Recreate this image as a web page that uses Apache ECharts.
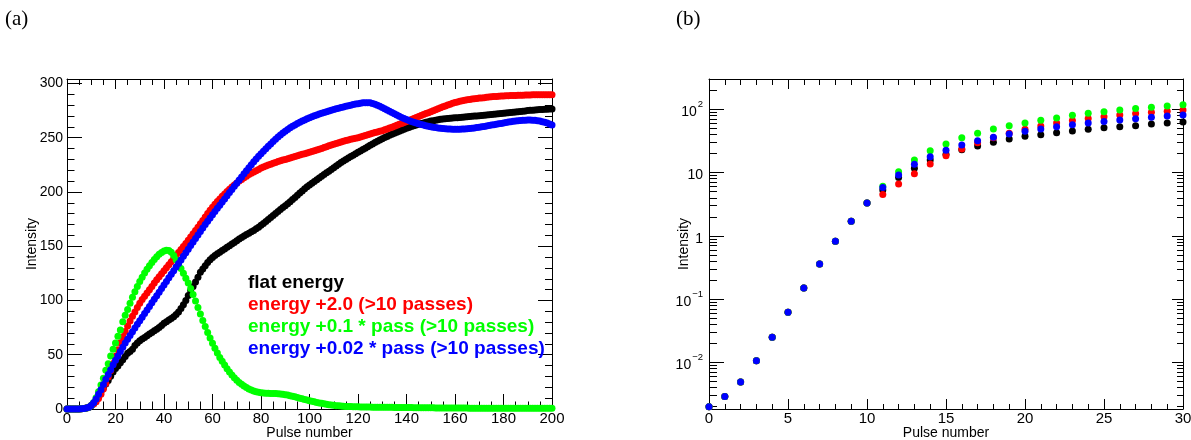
<!DOCTYPE html>
<html><head><meta charset="utf-8">
<script src="https://cdn.jsdelivr.net/npm/echarts@6/dist/echarts.min.js"></script>
<style>html,body{margin:0;padding:0;background:#fff}#c{width:1191px;height:440px}</style>
</head><body><div id="c"></div>
<script>
// ---------------- data (intensity per pulse number 0..200) ----------------
const seriesNames = ['flat energy', 'energy +2.0 (>10 passes)', 'energy +0.1 * pass (>10 passes)', 'energy +0.02 * pass (>10 passes)'];
const seriesColors = ['#000000', '#ff0000', '#00ff00', '#0000ff'];

const flatEnergy = [
0.002,0.0029,0.0049,0.0106,0.025,0.062,0.15,0.36,0.82,1.7,3.3,
5.3,8.4,11.7,15.8,19.5,23.0,26.3,30.1,34.0,37.4,
39.7,42.7,45.4,48.3,51.3,53.1,55.1,58.5,60.8,63.0,
64.5,66,67.5,69,70.5,72,73.5,75,77,79,
80.5,82,83.5,85,87,89.5,92.5,96,100,104.5,
109,113,117,121.5,126,129,132,135,137.5,139.5,
141.5,143,144.5,146,147.5,149,150.5,152,153.5,155,
156.6,158,159.4,160.7,162,163.3,164.6,166,167.6,169.3,
171,172.8,174.6,176.5,178.4,180.2,182,183.8,185.6,187.4,
189.2,191,193,195,197,199,201,203,204.8,206.5,
208,209.6,211.2,212.8,214.4,216,217.6,219.2,220.8,222.4,
224,225.6,227.1,228.5,229.9,231.3,232.6,233.9,235.2,236.5,
237.8,239.1,240.4,241.7,243,244.3,245.5,246.7,247.9,249,
250.1,251.2,252.2,253.2,254.2,255.1,256,256.9,257.8,258.7,
259.5,260.3,261,261.7,262.4,263,263.6,264.2,264.8,265.3,
265.7,266.1,266.5,266.9,267.2,267.5,267.7,267.9,268.1,268.3,
268.5,268.7,268.9,269.1,269.3,269.5,269.7,269.9,270.1,270.3,
270.5,270.7,270.9,271.1,271.4,271.6,271.8,272,272.3,272.5,
272.7,272.9,273.2,273.4,273.7,274,274.2,274.4,274.7,275,
275.2,275.4,275.6,275.8,276,276.1,276.2,276.3,276.4,276.5];

const energyPlus2 = [
0.002,0.0029,0.0049,0.0106,0.025,0.062,0.15,0.36,0.82,1.7,3.3,
4.5,6.6,9.6,13.7,18.5,23.6,29.5,35.5,42,48.5,
54.5,61,66.5,71.5,76.5,81,85.5,89.5,93.5,97.5,
101,104,107,110,113,116,119,121.8,124.6,127.4,
130.2,133,135.8,138.6,141.4,144.2,147,149.8,152.6,155.4,
158.4,161.4,164.4,167.4,170.6,173.8,177,180.2,183.2,186,
188.6,191.2,193.6,196,198.2,200.4,202.5,204.5,206.5,208.3,
210,211.5,213,214.5,216,217.2,218.4,219.6,220.8,222,
223,224,224.8,225.6,226.5,227.2,228,228.7,229.4,230,
230.7,231.3,232,232.6,233.3,234,234.7,235.3,236,236.7,
237.4,238,238.7,239.4,240.1,240.9,241.7,242.5,243.3,244,
244.7,245.4,246.1,246.8,247.5,248,248.5,249,249.5,250,
250.7,251.4,252.1,252.8,253.5,254.1,254.7,255.3,255.9,256.5,
257.3,258.1,258.9,259.7,260.5,261.4,262.3,263.2,264.1,265,
265.9,266.8,267.7,268.6,269.5,270.4,271.3,272.2,273.1,274,
274.9,275.8,276.7,277.6,278.5,279.3,280.1,280.9,281.7,282.5,
283,283.5,284,284.5,285,285.3,285.6,285.9,286.2,286.5,
286.7,286.9,287.2,287.4,287.7,287.9,288,288.2,288.4,288.5,
288.6,288.7,288.8,288.9,289,289.1,289.2,289.2,289.3,289.4,
289.4,289.5,289.5,289.5,289.5,289.5,289.6,289.5,289.5,289.5];

const energyPlus01Pass = [
0.002,0.0029,0.0049,0.0106,0.025,0.062,0.15,0.36,0.82,1.7,3.3,
6.1,10.3,15.8,22.2,28.3,35.6,41.8,48.9,55.1,60.8,
67,72.9,80.4,86.5,91.7,97.5,103,108,113,117.5,
121.5,125.3,128.8,132,135,137.8,140.3,142.5,144.3,145.6,
146.2,146,144.5,141.5,137.5,133.5,129.5,125,120.5,116,
111,105.5,99.5,93.5,87.5,81.5,76,70.5,65.5,60.5,
56,51.5,47.5,44,40.5,37.2,34.2,31.4,28.8,26.5,
24.5,22.7,21.1,19.7,18.5,17.5,16.7,16,15.4,15,
14.7,14.5,14.4,14.3,14.3,14.2,14.1,13.9,13.6,13.2,
12.8,12.3,11.8,11.2,10.6,10,9.4,8.8,8.2,7.6,
7.1,6.6,6.1,5.6,5.2,4.8,4.4,4,3.7,3.4,
3.1,2.9,2.7,2.5,2.4,2.3,2.2,2.1,2,2,
1.9,1.9,1.8,1.8,1.8,1.7,1.7,1.7,1.6,1.6,
1.6,1.5,1.5,1.5,1.4,1.4,1.4,1.4,1.3,1.3,
1.3,1.3,1.2,1.2,1.2,1.2,1.1,1.1,1.1,1.1,
1.1,1,1,1,1,1,1,0.9,0.9,0.9,
0.9,0.9,0.9,0.9,0.9,0.8,0.8,0.8,0.8,0.8,
0.8,0.8,0.8,0.8,0.8,0.8,0.7,0.7,0.7,0.7,
0.7,0.7,0.7,0.7,0.7,0.7,0.7,0.7,0.7,0.7,
0.7,0.7,0.7,0.7,0.6,0.6,0.6,0.6,0.6,0.6];

const energyPlus002Pass = [
0.002,0.0029,0.0049,0.0106,0.025,0.062,0.15,0.36,0.82,1.7,3.3,
5.8,9.2,13.5,17.8,22.5,27.3,31.9,36.1,40.8,45,
48.8,53,57,60.8,64.3,67.8,71.2,74.6,78,81.3,
84.6,87.9,91.2,94.5,97.8,101.1,104.4,107.7,111,114.3,
117.6,120.9,124.2,127.5,130.8,134.1,137.4,140.7,144,147.3,
150.6,153.9,157.2,160.4,163.6,166.8,170,173.1,176.1,179.1,
182,184.9,187.8,190.7,193.6,196.5,199.4,202.3,205.2,208.1,
211,213.9,216.8,219.6,222.4,225.1,227.8,230.4,232.9,235.3,
237.6,239.9,242.1,244.2,246.4,248.5,250.6,252.5,254.3,256,
257.6,259.1,260.5,261.8,263,264.2,265.3,266.4,267.4,268.4,
269.3,270.2,271,271.8,272.6,273.3,274,274.7,275.4,276,
276.6,277.2,277.8,278.4,279,279.5,280,280.5,281,281.4,
281.8,282.1,282.3,282.3,282.1,281.6,280.9,280,279,277.9,
276.8,275.6,274.4,273.2,272,270.9,269.8,268.7,267.7,266.7,
265.8,265,264.2,263.5,262.8,262.2,261.6,261.1,260.6,260.1,
259.7,259.3,259,258.7,258.5,258.3,258.1,258,257.9,257.9,
257.9,257.9,258,258.1,258.3,258.5,258.7,259,259.3,259.6,
260,260.4,260.8,261.2,261.6,262,262.4,262.8,263.2,263.6,
264,264.4,264.8,265.1,265.4,265.7,265.9,266.1,266.2,266.3,
266.3,266.2,266,265.7,265.3,264.8,264.2,263.5,262.7,261.8];

// tick labels / axis ranges
const xTicksA = [0,20,40,60,80,100,120,140,160,180,200];
const yTicksA = [0,50,100,150,200,250,300];
const xTicksB = [0,5,10,15,20,25,30];
const yTicksB = [0.01,0.1,1,10,100];
const xRangeA = [0,200], yRangeA = [0,304.1];
const xRangeB = [0,30],  yRangeB = [0.00184,301];
const nPulsesB = 31; // panel (b) shows pulses 0..30

// ---------------- helpers ----------------
function linMinor(range, step, major) {
  const out = [];
  for (let k = 0; range[0] + k*step <= range[1] + 1e-9; k++) {
    const v = +(range[0] + k*step).toFixed(6);
    if (major.indexOf(v) < 0) out.push(v);
  }
  return out;
}
function logMinor(range) {
  const out = [];
  for (let e = -4; e <= 3; e++) for (let m = 2; m <= 9; m++) {
    const v = +(m*Math.pow(10,e)).toPrecision(3);
    if (v > range[0] && v < range[1]) out.push(v);
  }
  return out;
}
const FONT = 'Liberation Sans';
function ax(grid, pos, type, range, ticks, len, line, extra) {
  const o = {
    type: type, gridIndex: grid, position: pos, min: range[0], max: range[1],
    axisLine: {show: line, onZero: false, lineStyle: {color: '#000', width: 1}},
    axisTick: {show: true, inside: true, length: len, customValues: ticks, lineStyle: {color: '#000', width: 1}},
    axisLabel: {show: false, customValues: ticks},
    splitLine: {show: false}, minorTick: {show: false}, minorSplitLine: {show: false},
    silent: true, nameMoveOverlap: false
  };
  if (type === 'log') o.logBase = 10;
  return Object.assign(o, extra || {});
}
const xLabelStyle = {show: true, color: '#000', fontFamily: FONT, fontSize: 15};
const yLabelStyle = {show: true, color: '#000', fontFamily: FONT, fontSize: 14};
const nameStyle = {color: '#000', fontFamily: FONT, fontSize: 14};

function logLabel(v) {
  const e = Math.round(Math.log10(v));
  if (e === 0) return '{b|1}';
  if (e === 1) return '{b|10}';
  return '{b|10}{s|' + (e < 0 ? '−' + (-e) : e) + '}';
}

const xAxes = [
  ax(0,'bottom','value',xRangeA,xTicksA,15,true,{axisLabel: Object.assign({customValues: xTicksA, margin: 2}, xLabelStyle),
     name: 'Pulse number', nameLocation: 'middle', nameGap: 17, nameTextStyle: nameStyle}),
  ax(0,'bottom','value',xRangeA,linMinor(xRangeA,5,xTicksA),7.5,false),
  ax(0,'top','value',xRangeA,xTicksA,10,true),
  ax(0,'top','value',xRangeA,linMinor(xRangeA,5,xTicksA),6,false),
  ax(1,'bottom','value',xRangeB,xTicksB,10,true,{axisLabel: Object.assign({customValues: xTicksB, margin: 2}, xLabelStyle),
     name: 'Pulse number', nameLocation: 'middle', nameGap: 17, nameTextStyle: nameStyle}),
  ax(1,'bottom','value',xRangeB,linMinor(xRangeB,1,xTicksB),5,false),
  ax(1,'top','value',xRangeB,xTicksB,10,true),
  ax(1,'top','value',xRangeB,linMinor(xRangeB,1,xTicksB),6,false)
];
const yAxes = [
  ax(0,'left','value',yRangeA,yTicksA,15,true,{axisLabel: Object.assign({customValues: yTicksA, margin: 4}, yLabelStyle),
     name: 'Intensity', nameLocation: 'middle', nameGap: 28, nameTextStyle: nameStyle}),
  ax(0,'left','value',yRangeA,linMinor([0,300],10,yTicksA),7.5,false),
  ax(0,'right','value',yRangeA,yTicksA,14,true),
  ax(0,'right','value',yRangeA,linMinor([0,300],10,yTicksA),7,false),
  ax(1,'left','log',yRangeB,yTicksB,15,true,{axisLabel: Object.assign({customValues: yTicksB, margin: 6, formatter: logLabel,
       rich: {b: {fontFamily: FONT, fontSize: 14, color: '#000', lineHeight: 20, verticalAlign: 'bottom'},
              s: {fontFamily: FONT, fontSize: 9.5, color: '#000', lineHeight: 20, verticalAlign: 'top', padding: [0,0,0,1]}}}, yLabelStyle),
     name: 'Intensity', nameLocation: 'middle', nameGap: 18, nameTextStyle: nameStyle}),
  ax(1,'left','log',yRangeB,logMinor(yRangeB),8,false),
  ax(1,'right','log',yRangeB,yTicksB,11,true),
  ax(1,'right','log',yRangeB,logMinor(yRangeB),6,false)
];

const allData = [flatEnergy, energyPlus2, energyPlus01Pass, energyPlus002Pass];
const series = [];
allData.forEach(function (arr, k) {
  series.push({type: 'scatter', name: seriesNames[k], xAxisIndex: 0, yAxisIndex: 0, symbol: 'circle', symbolSize: 7,
    itemStyle: {color: seriesColors[k], opacity: 1}, silent: true, z: 2 + k,
    data: arr.map(function (v, i) { return [i, v]; })});
});
allData.forEach(function (arr, k) {
  series.push({type: 'scatter', name: seriesNames[k], xAxisIndex: 4, yAxisIndex: 4, symbol: 'circle', symbolSize: 7,
    itemStyle: {color: seriesColors[k], opacity: 1}, silent: true, z: 2 + k,
    data: arr.slice(0, nPulsesB).map(function (v, i) { return [i, v]; })});
});

const chart = echarts.init(document.getElementById('c'), null, {renderer: 'canvas'});
chart.setOption({
  animation: false,
  backgroundColor: '#fff',
  title: [
    {text: '(a)', left: 5, top: 9, padding: 0, textStyle: {fontFamily: 'Liberation Serif', fontSize: 21, fontWeight: 'normal', color: '#000'}},
    {text: '(b)', left: 676, top: 9, padding: 0, textStyle: {fontFamily: 'Liberation Serif', fontSize: 21, fontWeight: 'normal', color: '#000'}}
  ],
  grid: [
    {left: 67, top: 79, width: 485, height: 330, containLabel: false, outerBoundsMode: 'none'},
    {left: 709, top: 79, width: 474, height: 330, containLabel: false, outerBoundsMode: 'none'}
  ],
  legend: {
    left: 243, top: 272, padding: 0, orient: 'vertical', icon: 'none', itemWidth: 0, itemHeight: 0, itemGap: 0,
    selectedMode: false,
    textStyle: {fontFamily: FONT, fontSize: 19, fontWeight: 'bold', lineHeight: 22},
    data: seriesNames.map(function (n, k) { return {name: n, textStyle: {color: seriesColors[k]}}; })
  },
  xAxis: xAxes,
  yAxis: yAxes,
  series: series
});
</script>
</body></html>
